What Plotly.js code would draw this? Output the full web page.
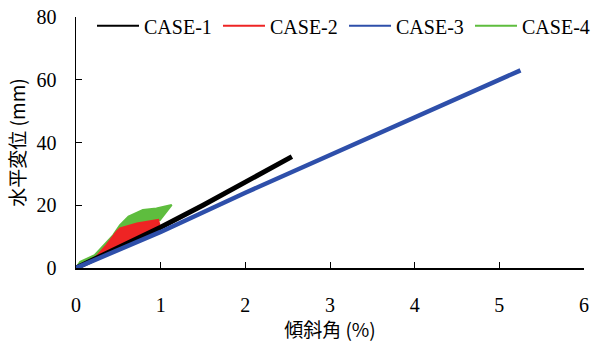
<!DOCTYPE html>
<html><head><meta charset="utf-8">
<script src="https://cdn.plot.ly/plotly-3.0.1.min.js"></script>
<style>html,body{margin:0;padding:0;background:#fff}#c{width:593px;height:349px}</style>
</head><body><div id="c"></div>
<script>
// CASE-1 (black)
const case1X = [0, 0.5, 1.0, 1.5, 2.0, 2.3, 2.55];
const case1Y = [0, 6.4, 13.0, 20.0, 27.5, 31.6, 35.5];
// CASE-3 (blue)
const case3X = [0, 1.0, 2.0, 3.0, 4.0, 5.0, 5.25];
const case3Y = [0, 11.5, 24.0, 36.0, 48.0, 60.0, 63.0];
// CASE-2 (red) loop
const case2X = [0, 0.12, 0.24, 0.36, 0.48, 0.52, 0.72, 0.97, 0.99, 0.8, 0.6, 0.4, 0.2, 0];
const case2Y = [0, 1.6, 3.6, 7.3, 11.6, 12.6, 14.2, 15.3, 13.2, 10.7, 8.0, 5.3, 2.6, 0];
// CASE-4 (green) loop
const case4X = [0, 0.05, 0.22, 0.44, 0.52, 0.62, 0.79, 0.95, 1.13, 1.05, 0.99, 0.7, 0.5, 0.3, 0.15, 0];
const case4Y = [0, 2.0, 4.1, 10.5, 13.7, 16.4, 18.5, 19.0, 20.1, 17.4, 15.3, 13.5, 11.0, 4.5, 1.8, 0];

const names = ['CASE-1', 'CASE-2', 'CASE-3', 'CASE-4'];
const colors = ['#000000', '#ee2424', '#2e4faa', '#5ebd3e'];
const legendX = [0.0315, 0.2795, 0.5276, 0.7756];

const traces = [
  {x: case4X, y: case4Y, mode: 'lines', fill: 'toself', fillcolor: colors[3], line: {color: colors[3], width: 2}, showlegend: false, hoverinfo: 'skip'},
  {x: case2X, y: case2Y, mode: 'lines', fill: 'toself', fillcolor: colors[1], line: {color: colors[1], width: 2}, showlegend: false, hoverinfo: 'skip'},
  {x: case1X, y: case1Y, mode: 'lines', line: {color: colors[0], width: 5}, showlegend: false},
  {x: case3X, y: case3Y, mode: 'lines', line: {color: colors[2], width: 4.5}, showlegend: false},
];
const lkeys = ['legend', 'legend2', 'legend3', 'legend4'];
names.forEach((n, i) => traces.push({x: [null], y: [null], mode: 'lines', name: n, legend: lkeys[i], line: {color: colors[i], width: 2}}));

const serif = 'Liberation Serif, Times New Roman, serif';
const cjk = 'Noto Sans CJK JP';
const layout = {
  width: 593, height: 349,
  margin: {l: 76, r: 9, t: 17, b: 81, autoexpand: false},
  paper_bgcolor: '#fff', plot_bgcolor: '#fff',
  font: {family: serif, size: 20, color: '#000'},
  showlegend: true,
  xaxis: {range: [0, 6], dtick: 1, tick0: 0, ticks: 'inside', ticklen: 6, tickcolor: '#000', showline: true, linecolor: '#000', linewidth: 1.5, showgrid: false, zeroline: false, ticklabelstandoff: 18, fixedrange: true,
    tickfont: {family: serif, size: 20},
    title: {text: '傾斜角 (%)', font: {size: 19, family: cjk}, standoff: 4}},
  yaxis: {range: [0, 80], dtick: 20, tick0: 0, ticks: 'inside', ticklen: 6, tickcolor: '#000', showline: true, linecolor: '#000', linewidth: 1.5, showgrid: false, zeroline: false, ticklabelstandoff: 14, fixedrange: true,
    tickfont: {family: serif, size: 20},
    title: {text: '水平変位 (mm)', font: {size: 19, family: cjk}, standoff: 6}},
};
lkeys.forEach((k, i) => {
  layout[k] = {orientation: 'h', x: legendX[i], y: 0.965, xanchor: 'left', yanchor: 'middle', font: {size: 20, family: serif}, itemwidth: 42, bgcolor: 'rgba(0,0,0,0)'};
});
Plotly.newPlot('c', traces, layout, {displayModeBar: false, staticPlot: true});
</script></body></html>
